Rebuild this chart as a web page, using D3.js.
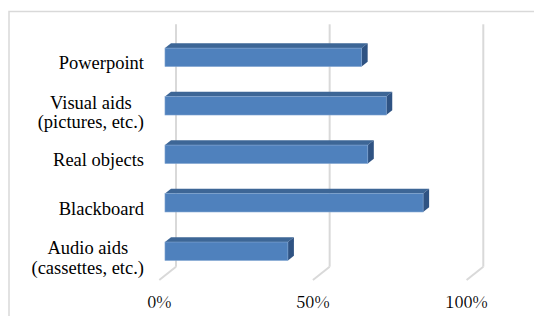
<!DOCTYPE html>
<html>
<head>
<meta charset="utf-8">
<script src="https://cdn.jsdelivr.net/npm/d3@7"></script>
</head>
<body style="margin:0">
<svg id="chart" width="534" height="316"></svg>
<script>
// ---- data ----
const categories = [
  ["Powerpoint"],
  ["Visual aids", "(pictures, etc.)"],
  ["Real objects"],
  ["Blackboard"],
  ["Audio aids", "(cassettes, etc.)"]
];
const values = [0.64, 0.72, 0.66, 0.84, 0.40];
const tickValues = [0, 0.5, 1];

// ---- layout ----
const W = 534, H = 316;
const FONT = "'Liberation Serif'";
const TICKFONT = "'Noto Serif CJK SC'";
const FS = 18.5;
const svg = d3.select("#chart");
const keys = categories.map(c => c.join(" "));

const xBack = d3.scaleLinear().domain([0, 1]).range([176, 483.3]);
const yBack = d3.scaleBand().domain(keys).range([24.3, 266.7]).paddingInner(0).paddingOuter(0);
const DX = -16.7, DY = 13.3;
const off = z => [DX * z, DY * z];

// Times/Liberation Serif advance widths (em/1000) to estimate line widths
const adv = {" ":250,"(":333,")":333,",":250,".":250,a:444,b:500,c:444,d:500,e:444,i:278,j:278,l:278,n:500,o:500,p:500,r:333,s:389,t:278,u:500,w:722,A:722,B:667,P:556,R:667,V:722};
const estWidth = s => [...s].reduce((w, ch) => w + (adv[ch] || 500), 0) / 1000 * FS;

// frame
svg.append("rect")
  .attr("x", 9).attr("y", 11.5)
  .attr("width", W).attr("height", H)
  .attr("fill", "none").attr("stroke", "#d9d9d9").attr("stroke-width", 1.5);

// value axis labels on front floor
const fmt = d3.format(".0%");
const xFront = d3.scaleLinear().domain([0, 1]).range([xBack(0) + DX, xBack(1) + DX]);
svg.append("g")
  .selectAll("text").data(tickValues).join("text")
  .attr("font-family", TICKFONT).attr("font-size", 16.5).attr("fill", "#000")
  .attr("text-anchor", "middle")
  .attr("x", d => xFront(d)).attr("y", 308)
  .text(d => fmt(d));

// category labels (right-aligned block, lines centred within block)
const labelX = 144;
const labels = svg.append("g");
keys.forEach((k, i) => {
  const lines = categories[i];
  const cy = yBack(k) + yBack.bandwidth() / 2 + off(1)[1];
  const ys = lines.length === 1 ? [cy + 7.5] : [cy - 1.5, cy + 18];
  const maxW = Math.max(...lines.map(estWidth));
  lines.forEach((ln, j) => {
    labels.append("text")
      .attr("font-family", FONT).attr("font-size", FS).attr("fill", "#000")
      .attr("text-anchor", lines.length === 1 ? "end" : "middle")
      .attr("x", lines.length === 1 ? labelX : labelX - maxW / 2)
      .attr("y", ys[j]).text(ln);
  });
});

// gridlines + floor diagonals
const gridColor = "#d9d9d9";
const yTop = yBack.range()[0], yBot = yBack.range()[1];
tickValues.forEach(t => {
  const x = xBack(t);
  svg.append("line")
    .attr("x1", x).attr("x2", x).attr("y1", yTop).attr("y2", yBot)
    .attr("stroke", gridColor).attr("stroke-width", 2);
  const [fx, fy] = off(1);
  svg.append("line")
    .attr("x1", x).attr("y1", yBot).attr("x2", x + fx).attr("y2", yBot + fy)
    .attr("stroke", gridColor).attr("stroke-width", 2);
});

// bars (3D)
const zFront = 0.66, zBack = 0.30;
const barFrac = 0.38;
const frontC = "#4f81bd", topC = "#3d6696", sideC = "#2f5383";
const bars = svg.append("g");
keys.forEach((k, i) => {
  const v = values[i];
  const bh = yBack.bandwidth() * barFrac;
  const cy = yBack(k) + yBack.bandwidth() / 2;
  const [fdx, fdy] = off(zFront);
  const [bdx, bdy] = off(zBack);
  const x0f = xBack(0) + fdx, x1f = xBack(v) + fdx;
  const y0f = cy - bh / 2 + fdy, y1f = cy + bh / 2 + fdy;
  const x0b = xBack(0) + bdx, x1b = xBack(v) + bdx;
  const y0b = cy - bh / 2 + bdy, y1b = cy + bh / 2 + bdy;
  bars.append("path")
    .attr("d", `M${x0f},${y0f}L${x0b},${y0b}L${x1b},${y0b}L${x1f},${y0f}Z`)
    .attr("fill", topC);
  bars.append("path")
    .attr("d", `M${x1f},${y0f}L${x1b},${y0b}L${x1b},${y1b}L${x1f},${y1f}Z`)
    .attr("fill", sideC);
  bars.append("rect")
    .attr("x", x0f).attr("y", y0f)
    .attr("width", x1f - x0f).attr("height", y1f - y0f)
    .attr("fill", frontC)
    .attr("stroke", "#7ea3d0").attr("stroke-width", 0.6);
});
</script>
</body>
</html>
